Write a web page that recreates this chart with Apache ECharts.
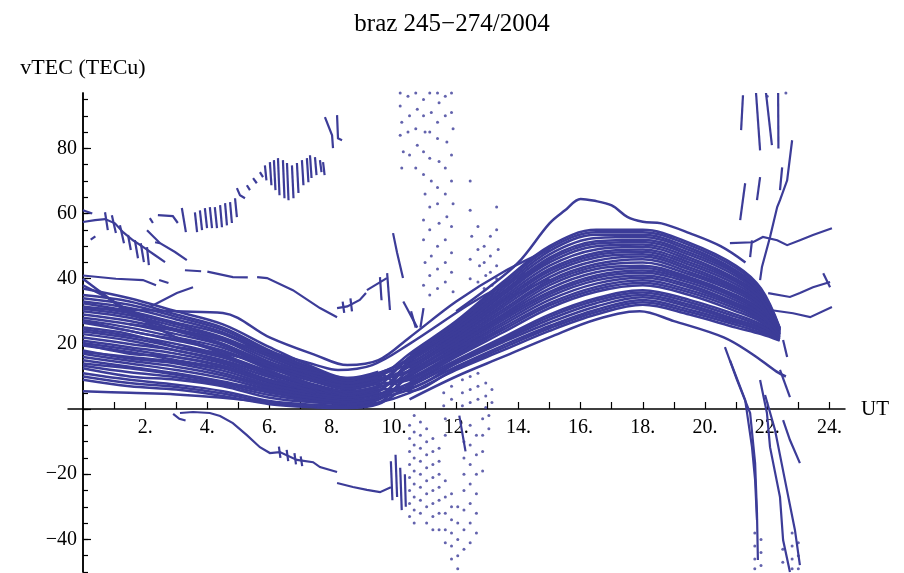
<!DOCTYPE html>
<html><head><meta charset="utf-8">
<script src="https://cdn.jsdelivr.net/npm/echarts@6/dist/echarts.min.js"></script>
<style>html,body{margin:0;padding:0;background:#fff}#c{width:904px;height:573px}</style>
</head><body><div id="c"></div>
<script>
// ---------- axis / text data ----------
const titleText = 'braz 245\u2212274/2004';
const yName = 'vTEC (TECu)';
const xName = 'UT';
const xTickValues = [1,2,3,4,5,6,7,8,9,10,11,12,13,14,15,16,17,18,19,20,21,22,23,24];
const xLabelValues = [2,4,6,8,10,12,14,16,18,20,22,24];
const yMajorTicks = [-40,-20,0,20,40,60,80];
const yLabelValues = [-40,-20,20,40,60,80];
const yMinorTicks = [-50,-45,-40,-35,-30,-25,-20,-15,-10,-5,0,5,10,15,20,25,30,35,40,45,50,55,60,65,70,75,80,85,90,95];

// ---------- daily vTEC traces (main band) ----------
const bandHours = [0,1.5,3,4.5,6,7.5,8.5,9.5,10.5,12,13.5,15,16.5,18,19.5,21,21.8,22.4];
const day01 = [9,7,6,4,1.5,0.5,0.3,1.5,7.5,15,22,29,34,36.5,33.5,29,26,21.8];
const day02 = [11,9,7.5,5.5,2.5,1.3,0.9,2,5,12,18,24,29,32,29,25,23,21];
const day03 = [12.5,10,9,7,3.5,2,1.5,2.8,10,18,26.5,34.5,39.5,41,38,32.5,28.6,22.6];
const day04 = [14,12.5,10.5,8,5,2.8,2,3.4,6,13,19.5,25.5,30.5,33.5,30.5,26.5,24,21.3];
const day05 = [16,14,12,9.5,6,3.6,2.6,4,12,21,30.5,39.5,44.5,46,42,36.5,31.5,23.4];
const day06 = [18,15.5,14,11,7,4.3,3.2,4.7,8,16,23.5,31,36,38,35,30,26.7,22];
const day07 = [19.5,17.5,15,12.5,8,5,3.8,5.3,14.5,24,35,45,50,50.5,46.5,40,34.2,24.2];
const day08 = [21,19,17,14,9,6,4.4,6,6.5,14,21,27.5,32.5,35,32,27.5,25,21.5];
const day09 = [23,21,18,15,10.5,6.6,5,6.6,10.5,19,28,36,41,42.5,39.5,34,29.5,23];
const day10 = [24.5,22.5,20,16.5,11.5,7.4,5.5,7.2,16,26,37.5,48.5,53.5,53.5,49.5,42.5,36,24.7];
const day11 = [26.5,24,21,18,12.5,8.2,6,7.8,9,17,25,32.5,37.5,39.5,36.5,31.5,27.7,22.3];
const day12 = [28,26,23,19.5,13.5,9,6.7,8.5,13,22,32,41.5,46.5,47.5,43.5,37.5,32.3,23.7];
const day13 = [30,28,24.5,21,14.5,9.7,7.3,9,11.5,20,29,38,43,44,40.5,35,30.5,23];
const day14 = [31.5,29.5,26,22,16,10.5,7.8,9.7,17,27,39,50,55,55,51,44,37,25];
const day15 = [33,31,27.5,23.5,17,11.2,8.4,10.4,14,23,33.5,43,48,49,45,39,33.3,24];
const day16 = [35,33,29,25,18,12,9,11,15.5,25,36,46.5,51.5,52,48,41.5,35,24.5];
const day17 = [10,8,6.8,4.8,2,0.9,0.6,1.8,11,19.5,28.5,37,42,43.3,40,34.5,30,23];
const day18 = [13.3,11.3,9.8,7.5,4.3,2.4,1.8,3.1,15,24.5,35.5,45.8,50.8,51.3,47.3,40.8,34.6,24.3];
const day19 = [17,14.8,13,10.3,6.5,4,2.9,4.3,7,14.5,21.5,28.3,33.3,35.8,32.8,28.3,25.5,21.6];
const day20 = [20.3,18.3,16,13.3,8.5,5.5,4.1,5.6,13.5,22.5,32.8,42.3,47.3,48.3,44.3,38.3,32.8,23.8];
const day21 = [23.8,21.8,19,15.8,11,7,5.2,6.9,9.5,17.5,25.8,33.5,38.5,40.3,37.3,32,28.2,22.5];
const day22 = [27.3,25,22,18.8,13,8.6,6.4,8.2,15.8,25.5,36.8,47.5,52.5,52.8,48.8,42,35.5,24.6];
const day23 = [30.8,28.8,25.3,21.5,15.3,10.1,7.6,9.4,11.8,20.5,29.8,38.8,43.8,45,41.3,35.8,31,23.2];
const day24 = [34,32,28.3,24.3,17.5,11.6,8.7,10.7,5.5,12.5,18.8,24.8,29.8,32.8,29.8,25.8,23.5,21.2];

// partial passes: morning only / afternoon only
const morningHours = [0,1.5,3,4.5,6,7.5,8.5,9.5];
const morn01 = [15,13,11,8.5,5.5,3.2,2.3,3.7];
const morn02 = [20,17,16,13,8.5,5.5,4.2,5.7];
const morn03 = [25,23,19,16,11,7,5.3,7];
const morn04 = [29,27,24,20,14,9.3,7,8.8];
const morn05 = [32.5,30,26.5,23,16.5,11,8,10];
const morn06 = [22,20,18,14.5,9.8,6.3,4.7,6.3];
const morn07 = [17.5,16,14.5,11.8,7.5,4.7,3.5,5];
const morn08 = [37,34,30,26,19,12.5,9.5,11.5];
const afternoonHours = [10.5,12,13.5,15,16.5,18,19.5,21,21.8,22.4];
const aft01 = [12.5,21.5,31.3,40.5,45.5,46.8,42.8,37,32,23.5];
const aft02 = [14.8,23.5,34.2,44,49,49.8,45.8,39.5,33.8,24.1];
const aft03 = [8.5,16.5,24.3,31.8,36.8,38.8,35.8,30.8,27.2,22.1];
const aft04 = [10.8,18.5,27.3,35.3,40.3,41.8,38.8,33.3,29,22.8];
const aft05 = [16.5,26.5,38.3,49.3,54.3,54.3,50.3,43.3,36.5,24.8];
const aft06 = [7,14,20.5,26.5,31.5,34.3,31.3,27,24.5,21.4];

// ---------- other continuous traces [UT, vTEC] ----------
const traceE1 = [[0,40],[0.7,35],[1.4,30],[2.2,27],[3,24],[4.5,20],[6,13],[7.5,7],[8.5,4]];
const traceE2 = [[0,38],[1,33],[2,27],[3,22],[4.5,17],[6,10],[7.5,5]];
const traceE3 = [[0,27],[1,25],[2,23],[3.5,20.5],[5,16],[6.5,10],[8,5]];
const traceE4 = [[0,5.5],[1.5,5],[3,4.5],[4.5,3.5],[6,2],[7.5,0.8]];
const tracePeak = [[12,30],[13,37],[14,45],[15,57],[15.5,61],[16,64.5],[16.4,64],[17,62.5],[17.5,59],[18,57.5],[18.6,57],[19.5,54],[20.5,50],[21.3,45]];
const traceS2 = [[0,31],[1.5,30.5],[3,30],[4.5,29.5],[6,22],[7.5,16.5],[8.5,13.5],[9.5,15],[10.5,22],[12,33],[13.5,42],[15,49]];
const traceS3 = [[1.5,26],[3,24],[4.5,21],[6,17.5],[7.5,13.5],[8.2,12],[9.3,13.5],[10.5,20],[12.4,32],[13.5,38],[15,45]];
const traceS4 = [[3,19],[4.5,17],[6,14],[7.5,11],[8.6,9.5],[9.5,11],[10.5,15],[12.4,26],[13.5,33],[15,40]];
const traceS5 = [[10.5,3],[12,10],[13.5,16],[15,22],[16.5,27.5],[17.9,30],[19,27],[20.6,22],[21.5,17],[22.3,11.5],[22.6,10]];

// ---------- broken trace pieces [UT, vTEC] ----------
const leftCluster = [
  [[0,57.4],[0.39,58],[0.71,58.3],[1.03,57],[1.29,54.3],[1.61,51.8],[1.99,49.4],[2.32,47.2],[2.64,45.1]],
  [[0,61],[0.3,60]],
  [[0.71,60.4],[0.8,54.9]], [[0.93,59.5],[1.06,54]], [[1.19,56.4],[1.32,50.9]],
  [[1.45,53.4],[1.54,48.8]], [[1.67,51.8],[1.77,46.3]], [[1.86,50.9],[1.96,45.1]], [[2.06,49.7],[2.12,44.2]],
  [[2.06,54.9],[2.48,50.9],[2.96,48.2],[3.34,45.7]],
  [[0.25,52],[0.4,53]]
];
const upperArc = [
  [[2.15,58.6],[2.25,57.1]], [[2.32,51.2],[2.48,50.9]],
  [[2.41,59.5],[2.89,59.2],[3.05,57.1]],
  [[3.18,61.7],[3.31,54.3]], [[3.6,60.4],[3.67,54.3]], [[3.76,61],[3.83,54.9]], [[3.92,61.7],[3.99,55.5]],
  [[4.08,62],[4.15,55.5]], [[4.24,62],[4.31,55.5]], [[4.41,62.6],[4.47,55.8]], [[4.57,63.2],[4.63,56.4]],
  [[4.73,63.5],[4.79,57.1]], [[4.89,64.7],[4.95,58.9]],
  [[4.95,67.8],[5.05,65.6],[5.21,64.7]], [[5.27,68.7],[5.37,67.2]], [[5.47,70.9],[5.59,69.3]], [[5.69,72.7],[5.79,71.2]],
  [[5.85,74.8],[5.9,70.2]], [[6.01,75.8],[6.06,68.7]], [[6.14,76.4],[6.19,67.2]], [[6.27,77],[6.32,65.6]],
  [[6.43,76.4],[6.48,64.7]], [[6.56,75.5],[6.61,64.1]], [[6.72,74.8],[6.77,64.7]], [[6.88,75.5],[6.93,66.3]],
  [[7.04,76.4],[7.09,68.7]], [[7.2,77],[7.25,69.6]], [[7.3,77.9],[7.35,70.9]], [[7.46,77.3],[7.51,71.8]],
  [[7.62,76.4],[7.67,72.7]], [[7.72,75.8],[7.77,71.8]],
  [[7.78,89.6],[8.01,84],[8.04,80.1]], [[8.17,90.2],[8.2,83.1],[8.33,82.5]]
];
const midPieces = [
  [[0,41],[1.06,40],[1.93,39.6],[2.35,38]], [[2.45,39.6],[2.75,38.7]],
  [[2.15,31.3],[2.57,33.4],[3.02,35.6],[3.54,37.4]],
  [[3.28,42.6],[3.8,42.3]], [[4.0,42.2],[4.82,40.5],[5.3,40.4]],
  [[5.6,40.5],[5.92,40.2],[6.75,36.5],[7.62,31],[8.17,28.2]],
  [[8.17,31],[8.5,31.5],[8.9,33.5],[9.1,35.6]], [[8.35,33],[8.4,29.5]], [[8.6,34],[8.65,30]],
  [[9.13,36.5],[9.77,40.2]],
  [[9.55,40.5],[9.6,33.4]], [[9.78,41.7],[9.87,30.4]], [[9.97,54],[10.1,48],[10.29,40.2]],
  [[10.3,33],[10.75,25]], [[10.55,30],[10.7,25]], [[10.95,31],[10.85,25]]
];
const negPieces = [
  [[2.9,-1.5],[3.1,-3],[3.3,-3.5]],
  [[3.12,-1.2],[3.54,-0.9],[4.08,-1.2],[4.41,-2.1],[4.82,-4.3],[5.27,-8],[5.69,-11.7],[6.01,-13.5],[6.33,-13.2],[6.88,-15.6],[7.4,-16.3],[7.62,-17.8],[8.17,-19.3]],
  [[8.17,-22.7],[8.68,-23.9],[9.13,-24.8],[9.55,-25.5],[9.9,-24]],
  [[6.3,-11.5],[6.35,-15]], [[6.55,-12.5],[6.6,-16]], [[6.8,-13.5],[6.85,-17]], [[7.0,-14.5],[7.05,-17.5]],
  [[9.9,-16],[9.95,-28]], [[10.05,-14],[10.1,-27]], [[10.2,-18],[10.25,-31]], [[10.35,-20],[10.38,-30]],
  [[12.1,-2],[12.3,-13]]
];
const rightPieces = [
  [[21.22,96.3],[21.16,85.6]], [[21.64,97],[21.77,79.4]], [[21.96,97],[22.15,81]], [[22.35,97],[22.36,80]],
  [[22.8,82.5],[22.64,70.2],[22.41,64.1],[22.32,62],[22.09,52.8],[21.83,43.6],[21.77,39.6]],
  [[22.48,74.2],[22.41,67.2]], [[21.77,71.2],[21.67,64.1]], [[21.29,69.3],[21.13,58]], [[21.51,51.8],[21.45,46.6]],
  [[20.8,50.9],[21.54,51.2],[21.86,52.8],[22.32,51.8],[22.64,50.3],[23.05,51.8],[23.47,53.4],[24.08,55.5]],
  [[22.03,35.6],[22.73,34.4],[23.05,35.6],[23.47,37.4],[24.02,39]], [[23.8,41.7],[24.02,37.4]],
  [[22.09,30.4],[22.83,29.4],[23.38,28.2],[24.08,31.3]],
  [[20.64,19],[21.03,8.9],[21.45,-1.2],[21.61,-16.6],[21.67,-31.9],[21.7,-46.3]],
  [[20.8,15],[21.29,2.8],[21.51,-11.7],[21.61,-21.8],[21.67,-34]],
  [[21.77,8.9],[21.99,-1.2],[22.09,-11.7],[22.41,-27],[22.51,-40.2],[22.73,-50]],
  [[21.93,4.3],[22.25,-6.4],[22.57,-21.8],[22.89,-37.1],[23.05,-47.9]],
  [[22.51,-3.4],[22.73,-9.5],[23.05,-16.6]],
  [[22.51,21.2],[22.64,16]], [[22.41,12],[22.73,3.7]]
];

// ---------- isolated samples [UT, vTEC] ----------
const dotsUpper = [
  [10.2,97],[10.2,93],[10.25,88],[10.2,84],[10.3,79],[10.25,74],
  [10.45,96],[10.5,90],[10.45,85],[10.5,78],
  [10.7,97],[10.75,92],[10.7,86],[10.75,81],[10.7,74],
  [10.95,95],[10.95,90],[11,85],[10.95,79],[10.95,72],[11,66],[10.95,58],[10.95,52],[11,45],[10.95,38],
  [11.15,97],[11.2,91],[11.15,85],[11.15,77],[11.2,70],[11.15,62],[11.15,55],[11.2,47],[11.15,41],[11.15,35],
  [11.4,97],[11.45,94],[11.4,88],[11.4,83],[11.45,76],[11.4,68],[11.4,63],[11.45,57],[11.4,50],[11.4,43],[11.4,37],
  [11.65,96],[11.65,90],[11.7,82],[11.65,74],[11.65,66],[11.7,59],[11.65,52],[11.65,45],[11.65,39],
  [11.85,97],[11.85,91],[11.9,86],[11.85,78],[11.85,70],[11.9,63],[11.85,56],[11.85,48],[11.85,42],[11.9,36],
  [12.45,70],[12.45,61],[12.5,53],[12.45,46],[12.45,40],
  [12.7,56],[12.7,49],[12.75,44],[12.7,39],
  [12.9,50],[12.9,45],[12.95,41],[12.9,37],
  [13.1,53],[13.1,47],[13.1,42],[13.15,38],
  [13.3,62],[13.3,55],[13.35,49],[13.3,44],[13.3,40],
  [12.2,9],[12.2,5],[12.2,1],[12.45,10],[12.45,6],[12.45,2],[12.7,11],[12.7,7],[12.7,3],
  [12.95,8],[12.95,4],[12.95,0.5],[13.15,6],[13.15,2],[11.6,5],[11.6,1],[11.85,7],[11.85,3]
];
const dotsLower = [
  [10.5,-5],[10.5,-9],[10.5,-13],[10.5,-17],[10.5,-21],[10.5,-25],[10.5,-29],[10.5,-33],
  [10.65,-2],[10.65,-7],[10.65,-11],[10.65,-15],[10.65,-19],[10.65,-23],[10.65,-27],[10.65,-31],[10.65,-35],
  [10.85,-4],[10.85,-8],[10.85,-12],[10.85,-16],[10.85,-20],[10.85,-24],[10.85,-28],[10.85,-32],
  [11.05,-6],[11.05,-10],[11.05,-14],[11.05,-18],[11.05,-22],[11.05,-26],[11.05,-30],[11.05,-35],
  [11.25,-9],[11.25,-13],[11.25,-17],[11.25,-21],[11.25,-25],[11.25,-29],[11.25,-33],[11.25,-37],
  [11.45,-12],[11.45,-16],[11.45,-20],[11.45,-24],[11.45,-28],[11.45,-32],[11.45,-37],
  [11.65,-3],[11.65,-8],[11.65,-22],[11.65,-27],[11.65,-32],[11.65,-37],[11.65,-41],
  [11.85,-26],[11.85,-30],[11.85,-34],[11.85,-38],[11.85,-42],[11.85,-46],
  [12.05,-30],[12.05,-35],[12.05,-40],[12.05,-45],[12.05,-49],
  [12.25,-10],[12.25,-15],[12.25,-20],[12.25,-25],[12.25,-31],[12.25,-37],[12.25,-43],
  [12.45,-5],[12.45,-11],[12.45,-17],[12.45,-23],[12.45,-29],[12.45,-35],[12.45,-41],
  [12.65,-8],[12.65,-14],[12.65,-20],[12.65,-26],[12.65,-32],[12.65,-38],
  [12.85,-3],[12.85,-8],[12.85,-13],[12.85,-19],[13.05,-2],[13.05,-6]
];
const dotsRight = [
  [21.6,-38],[21.6,-42],[21.6,-46],[21.6,-49],[21.8,-40],[21.8,-44],[21.8,-48],[22.5,-43],[22.5,-47],
  [22.8,-38],[22.8,-42],[22.8,-46],[22.8,-49],[23,-41],[23,-45],[23,-49],[22.0,96],[22.6,97]
];

// ---------- build chart ----------
const ink = '#3c3c98';
const font = 'Liberation Serif';
const bandDays = [day01,day02,day03,day04,day05,day06,day07,day08,day09,day10,day11,day12,
                  day13,day14,day15,day16,day17,day18,day19,day20,day21,day22,day23,day24];
const mornings = [morn01,morn02,morn03,morn04,morn05,morn06,morn07,morn08];
const afternoons = [aft01,aft02,aft03,aft04,aft05,aft06];
const curves = [traceE1,traceE2,traceE3,traceE4,tracePeak,traceS2,traceS3,traceS4,traceS5];
const series = [];
function curve(pts){
  return {type:'line', data:pts, showSymbol:false, smooth:0.35, silent:true, z:2,
          lineStyle:{width:2.5, color:ink}, itemStyle:{color:ink}};
}
bandDays.forEach(d => series.push(curve(bandHours.map((h,i)=>[h,d[i]]))));
mornings.forEach(d => series.push(curve(morningHours.map((h,i)=>[h,d[i]]))));
afternoons.forEach(d => series.push(curve(afternoonHours.map((h,i)=>[h,d[i]]))));
curves.forEach(c => series.push(curve(c)));
const pieces = [].concat(leftCluster, upperArc, midPieces, negPieces, rightPieces);
series.push({type:'lines', coordinateSystem:'cartesian2d', polyline:true, silent:true, z:3,
  data: pieces.map(p=>({coords:p})), lineStyle:{color:ink, width:2.2, opacity:1}});
series.push({type:'scatter', silent:true, z:3, symbolSize:3,
  data: [].concat(dotsUpper, dotsLower, dotsRight), itemStyle:{color:ink}});

const chart = echarts.init(document.getElementById('c'), null, {renderer:'canvas'});
chart.setOption({
  animation:false,
  backgroundColor:'#fff',
  title:{text:titleText, left:'center', top:7,
    textStyle:{fontFamily:font, fontSize:25, fontWeight:'normal', color:'#000'}},
  grid:{left:68, right:59, top:93, bottom:1, outerBoundsMode:'none', containLabel:false},
  xAxis:{type:'value', min:-0.48, max:24.5, position:'bottom', offset:-163,
    name:xName, nameLocation:'end', nameGap:16,
    nameTextStyle:{fontFamily:font, fontSize:21, color:'#000', verticalAlign:'middle'},
    axisLine:{onZero:false, lineStyle:{color:'#000', width:1.5}},
    axisTick:{customValues:xTickValues, inside:true, length:7, lineStyle:{color:'#000', width:1.2}},
    axisLabel:{customValues:xLabelValues, formatter:v=>v+'.', fontFamily:font, fontSize:20, color:'#000', margin:9},
    splitLine:{show:false}},
  yAxis:[
    {type:'value', min:-50, max:97, position:'left', offset:-15,
     name:yName, nameLocation:'end', nameGap:14,
     nameTextStyle:{fontFamily:font, fontSize:22, color:'#000', align:'center'},
     axisLine:{onZero:false, lineStyle:{color:'#000', width:1.5}},
     axisTick:{customValues:yMajorTicks, inside:true, length:8, lineStyle:{color:'#000', width:1.2}},
     axisLabel:{customValues:yLabelValues, formatter:v=>String(v).replace('-', '\u2212'), fontFamily:font, fontSize:20, color:'#000', margin:6},
     splitLine:{show:false}},
    {type:'value', min:-50, max:97, position:'left', offset:-15,
     axisLine:{onZero:false, show:true, lineStyle:{color:'#000', width:1.5}},
     axisTick:{customValues:yMinorTicks, inside:true, length:5, lineStyle:{color:'#000', width:1.2}},
     axisLabel:{show:false}, splitLine:{show:false}}
  ],
  series: series
});
</script></body></html>
